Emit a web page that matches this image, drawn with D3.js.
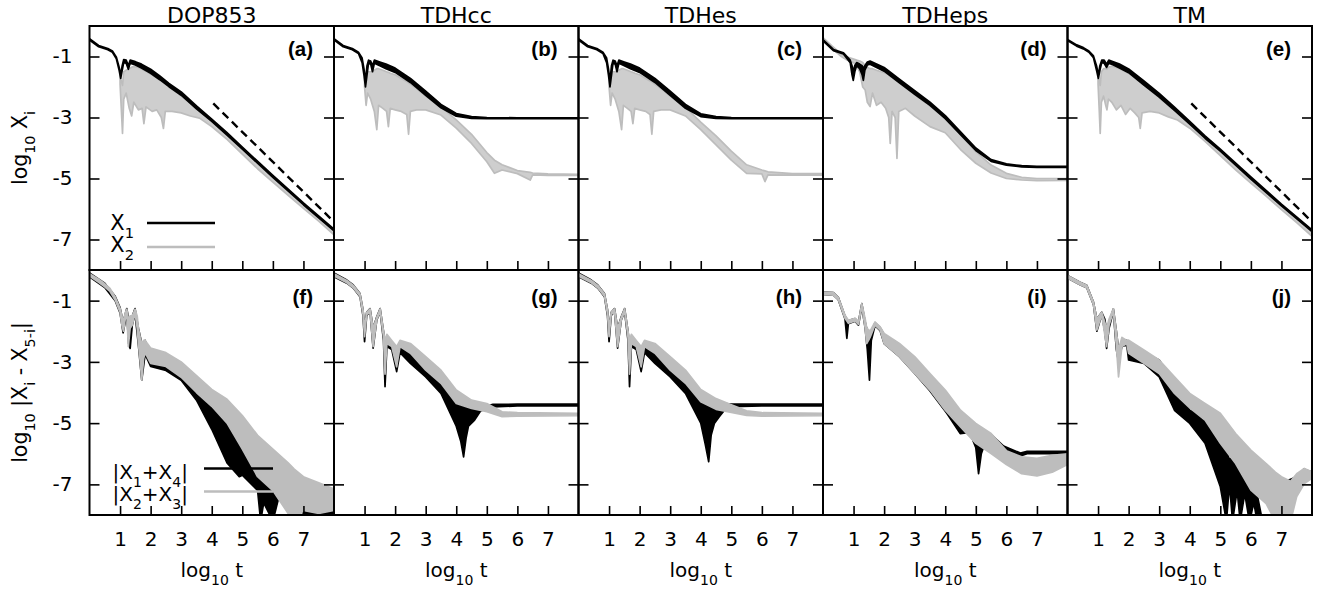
<!DOCTYPE html>
<html><head><meta charset="utf-8">
<script src="https://cdn.jsdelivr.net/npm/d3@7"></script>
<style>html,body{margin:0;padding:0;background:#fff;} svg{display:block;} text{white-space:pre;}</style>
</head><body><svg id="chart" width="1332" height="593"></svg>
<script>
// ---------- categories / labels ----------
const methods = ["DOP853", "TDHcc", "TDHes", "TDHeps", "TM"];
const topPanelLabels = ["(a)", "(b)", "(c)", "(d)", "(e)"];
const bottomPanelLabels = ["(f)", "(g)", "(h)", "(i)", "(j)"];
const xTicks = [1, 2, 3, 4, 5, 6, 7];
const yTicks = [-1, -3, -5, -7];

// ---------- series: [log10 t, upper envelope, lower envelope] ----------
// top row: log10 X1 (black) and log10 X2 (grey)
const X1_DOP853 = [[0,-0.42,-0.46],[0.3,-0.64,-0.68],[0.6,-0.74,-0.78],[0.75,-0.82,-0.86],[0.88,-1.02,-1.08],[0.97,-1.35,-1.45],[1.02,-1.6,-1.72],[1.07,-1.3,-1.45],[1.12,-1.1,-1.2],[1.2,-1.12,-1.22],[1.27,-1.3,-1.42],[1.33,-1.12,-1.22],[1.5,-1.17,-1.28],[1.7,-1.25,-1.38],[2.0,-1.42,-1.55],[2.3,-1.64,-1.76],[2.6,-1.88,-1.99],[3.0,-2.16,-2.27],[3.5,-2.62,-2.72],[4.0,-3.05,-3.13],[4.5,-3.5,-3.58],[5.0,-3.97,-4.04],[6.0,-4.9,-4.96],[7.0,-5.8,-5.86],[8.0,-6.66,-6.72]];
const X2_DOP853 = [[1.0,-1.62,-1.9],[1.04,-1.8,-2.7],[1.08,-1.95,-3.52],[1.12,-1.5,-2.4],[1.2,-1.45,-2.2],[1.3,-1.4,-2.7],[1.38,-1.35,-2.95],[1.45,-1.33,-2.5],[1.6,-1.36,-2.75],[1.72,-1.42,-2.7],[1.78,-1.45,-3.2],[1.85,-1.49,-2.65],[2.05,-1.6,-2.8],[2.2,-1.7,-2.75],[2.35,-1.8,-3.0],[2.42,-1.84,-3.36],[2.48,-1.88,-2.8],[2.7,-2.03,-2.8],[3.0,-2.3,-2.85],[3.3,-2.52,-2.95],[3.6,-2.78,-3.02],[4.0,-3.12,-3.3],[4.5,-3.55,-3.72],[5.0,-4.02,-4.2],[5.5,-4.5,-4.68],[6.0,-4.96,-5.12],[6.5,-5.4,-5.55],[7.0,-5.85,-5.98],[7.5,-6.28,-6.4],[8.0,-6.7,-6.85]];
const X1_TDHcc = [[0,-0.42,-0.46],[0.3,-0.64,-0.68],[0.6,-0.74,-0.78],[0.8,-0.86,-0.9],[0.92,-1.05,-1.2],[0.98,-1.4,-1.6],[1.03,-1.8,-2.0],[1.08,-1.3,-1.6],[1.13,-1.12,-1.22],[1.2,-1.15,-1.25],[1.26,-1.3,-1.5],[1.32,-1.12,-1.22],[1.5,-1.18,-1.3],[1.7,-1.25,-1.4],[2.0,-1.38,-1.52],[2.5,-1.72,-1.85],[3.0,-2.14,-2.27],[3.5,-2.57,-2.68],[4.0,-2.87,-2.96],[4.5,-2.97,-3.03],[5.0,-3.0,-3.04],[6.0,-3.01,-3.04],[8.0,-3.01,-3.04]];
const X2_TDHcc = [[1.0,-1.7,-2.0],[1.05,-1.9,-2.6],[1.1,-1.5,-2.2],[1.2,-1.5,-2.4],[1.32,-1.45,-2.8],[1.4,-1.4,-3.4],[1.46,-1.4,-2.6],[1.6,-1.45,-2.7],[1.72,-1.5,-2.8],[1.78,-1.52,-3.3],[1.84,-1.55,-2.7],[2.0,-1.6,-2.75],[2.2,-1.72,-2.8],[2.38,-1.82,-2.9],[2.44,-1.86,-3.55],[2.5,-1.9,-2.8],[2.7,-2.05,-2.75],[3.0,-2.3,-2.75],[3.5,-2.65,-2.92],[4.0,-3.08,-3.35],[4.5,-3.55,-3.85],[5.0,-4.15,-4.45],[5.25,-4.4,-4.83],[5.5,-4.55,-4.72],[6.0,-4.74,-4.84],[6.42,-4.8,-5.05],[6.5,-4.82,-4.88],[7.0,-4.85,-4.9],[8.0,-4.86,-4.9]];
const X1_TDHes = [[0,-0.42,-0.46],[0.3,-0.64,-0.68],[0.6,-0.74,-0.78],[0.8,-0.86,-0.9],[0.92,-1.05,-1.2],[0.98,-1.4,-1.6],[1.03,-1.8,-2.0],[1.08,-1.3,-1.6],[1.13,-1.12,-1.22],[1.2,-1.15,-1.25],[1.26,-1.3,-1.5],[1.32,-1.12,-1.22],[1.5,-1.18,-1.3],[1.7,-1.25,-1.4],[2.0,-1.38,-1.52],[2.5,-1.72,-1.85],[3.0,-2.14,-2.27],[3.5,-2.57,-2.7],[4.0,-2.88,-2.97],[4.5,-2.97,-3.03],[5.0,-3.0,-3.04],[6.0,-3.01,-3.04],[8.0,-3.01,-3.04]];
const X2_TDHes = [[1.0,-1.7,-2.0],[1.05,-1.9,-2.6],[1.1,-1.5,-2.2],[1.2,-1.5,-2.4],[1.32,-1.45,-2.8],[1.41,-1.4,-3.4],[1.47,-1.4,-2.6],[1.6,-1.45,-2.7],[1.72,-1.5,-2.8],[1.78,-1.52,-3.2],[1.84,-1.55,-2.7],[2.0,-1.6,-2.75],[2.2,-1.72,-2.8],[2.34,-1.8,-2.9],[2.4,-1.84,-3.55],[2.46,-1.88,-2.8],[2.7,-2.05,-2.75],[3.0,-2.3,-2.75],[3.5,-2.67,-2.95],[4.0,-3.15,-3.4],[4.5,-3.6,-3.9],[5.0,-4.1,-4.4],[5.5,-4.55,-4.83],[6.0,-4.72,-4.85],[6.1,-4.75,-5.1],[6.2,-4.78,-4.88],[7.0,-4.84,-4.89],[8.0,-4.84,-4.89]];
const X1_TDHeps = [[0,-0.45,-0.49],[0.34,-0.77,-0.81],[0.67,-0.88,-0.92],[0.89,-1.12,-1.2],[0.95,-1.3,-1.6],[0.99,-1.5,-1.78],[1.04,-1.3,-1.5],[1.1,-1.2,-1.3],[1.2,-1.25,-1.4],[1.28,-1.3,-1.6],[1.32,-1.4,-1.78],[1.37,-1.3,-1.45],[1.45,-1.18,-1.28],[1.54,-1.15,-1.25],[2.0,-1.36,-1.48],[2.5,-1.74,-1.86],[3.0,-2.12,-2.24],[3.5,-2.5,-2.6],[4.0,-2.94,-3.04],[4.5,-3.47,-3.56],[5.0,-4.0,-4.08],[5.5,-4.38,-4.44],[6.0,-4.52,-4.56],[6.5,-4.58,-4.62],[7.0,-4.6,-4.64],[8.0,-4.6,-4.64]];
const X2_TDHeps = [[0,-0.38,-0.44],[0.3,-0.66,-0.74],[0.6,-0.92,-1.0],[0.8,-1.02,-1.12],[1.0,-1.08,-1.2],[1.1,-1.12,-1.3],[1.2,-1.15,-1.5],[1.3,-1.2,-2.0],[1.38,-1.3,-2.1],[1.45,-1.35,-2.5],[1.54,-1.4,-2.64],[1.62,-1.4,-2.2],[1.75,-1.45,-2.6],[1.9,-1.5,-2.5],[2.05,-1.55,-2.7],[2.15,-1.6,-3.0],[2.2,-1.65,-3.85],[2.26,-1.68,-2.8],[2.36,-1.75,-3.0],[2.42,-1.8,-4.34],[2.48,-1.82,-2.8],[2.7,-1.95,-2.7],[3.0,-2.25,-2.95],[3.5,-2.62,-3.3],[4.0,-3.02,-3.5],[4.5,-3.55,-4.05],[5.0,-4.12,-4.5],[5.5,-4.56,-4.82],[6.0,-4.83,-5.0],[6.5,-4.96,-5.05],[7.0,-5.0,-5.07],[8.0,-5.0,-5.06]];
const X1_TM = [[0,-0.44,-0.48],[0.3,-0.62,-0.66],[0.52,-0.71,-0.75],[0.7,-0.82,-0.86],[0.85,-0.98,-1.04],[0.95,-1.3,-1.45],[1.01,-1.6,-1.72],[1.06,-1.3,-1.45],[1.12,-1.12,-1.2],[1.2,-1.12,-1.22],[1.28,-1.25,-1.36],[1.35,-1.12,-1.22],[1.5,-1.17,-1.28],[1.7,-1.25,-1.38],[2.0,-1.41,-1.53],[2.5,-1.8,-1.94],[3.0,-2.21,-2.33],[3.5,-2.66,-2.77],[4.0,-3.13,-3.22],[4.5,-3.6,-3.68],[5.0,-4.04,-4.1],[6.0,-4.95,-5.02],[7.0,-5.84,-5.9],[8.0,-6.68,-6.74]];
const X2_TM = [[1.0,-1.62,-1.9],[1.04,-1.8,-2.8],[1.07,-1.95,-3.52],[1.11,-1.5,-2.5],[1.18,-1.4,-2.3],[1.25,-1.4,-2.6],[1.29,-1.42,-2.75],[1.34,-1.35,-2.4],[1.45,-1.32,-2.5],[1.6,-1.36,-2.75],[1.75,-1.42,-2.6],[1.9,-1.5,-2.9],[2.05,-1.58,-2.7],[2.2,-1.68,-2.85],[2.33,-1.76,-3.0],[2.38,-1.8,-3.36],[2.44,-1.84,-2.85],[2.7,-2.04,-2.8],[3.0,-2.35,-2.85],[3.3,-2.6,-2.98],[3.6,-2.85,-3.08],[4.0,-3.2,-3.35],[4.5,-3.62,-3.78],[5.0,-4.08,-4.25],[5.5,-4.55,-4.72],[6.0,-5.0,-5.15],[6.5,-5.45,-5.58],[7.0,-5.9,-6.02],[7.5,-6.3,-6.45],[8.0,-6.72,-6.9]];
// reference slope (dashed) in panels (a) and (e)
const slopeRef = [[4.05, -2.54], [8.0, -6.42]];

// bottom row: log10 |X1+X4| (black) and log10 |X2+X3| (grey)
const S14_DOP853 = [[0,-0.1,-0.22],[0.5,-0.43,-0.57],[0.84,-0.86,-1.0],[1.0,-1.23,-1.4],[1.1,-1.7,-2.05],[1.22,-1.26,-1.42],[1.28,-1.6,-2.4],[1.33,-1.8,-2.56],[1.4,-1.5,-1.8],[1.49,-1.26,-1.42],[1.6,-1.9,-2.45],[1.71,-2.4,-3.6],[1.82,-2.3,-2.75],[2.0,-2.8,-3.15],[2.5,-2.92,-3.28],[3.0,-3.15,-3.6],[3.5,-3.7,-4.25],[4.0,-4.35,-5.2],[4.5,-5.0,-6.3],[4.9,-5.5,-6.75],[5.0,-5.75,-6.7],[5.5,-6.3,-7.2],[5.6,-6.6,-8.2],[5.7,-6.6,-7.6],[6.0,-6.5,-8.2],[6.2,-6.8,-7.4],[6.5,-6.55,-7.4],[7.0,-7.05,-7.95],[7.5,-7.4,-8.2],[8.0,-7.6,-8.2]];
const S23_DOP853 = [[0,-0.12,-0.2],[0.3,-0.3,-0.4],[0.5,-0.45,-0.55],[0.67,-0.6,-0.7],[0.84,-0.88,-0.98],[1.0,-1.25,-1.38],[1.06,-1.5,-1.8],[1.11,-1.7,-2.0],[1.17,-1.4,-1.6],[1.22,-1.28,-1.4],[1.27,-1.6,-2.5],[1.33,-1.5,-1.9],[1.4,-1.5,-1.8],[1.49,-1.28,-1.4],[1.56,-1.5,-1.9],[1.6,-1.9,-2.4],[1.66,-2.2,-3.0],[1.71,-2.4,-3.6],[1.77,-2.3,-2.9],[1.82,-2.3,-2.7],[2.0,-2.55,-3.05],[2.5,-2.7,-3.15],[3.0,-3.0,-3.5],[3.5,-3.45,-4.0],[4.0,-3.9,-4.45],[4.5,-4.22,-5.0],[5.0,-4.75,-5.85],[5.5,-5.4,-6.75],[6.0,-5.85,-7.2],[6.5,-6.3,-7.95],[6.7,-6.5,-8.2],[7.0,-6.75,-7.85],[7.5,-6.95,-7.95],[8.0,-7.15,-7.85]];
const S14_TDHcc = [[0,-0.1,-0.22],[0.42,-0.33,-0.43],[0.63,-0.49,-0.59],[0.85,-0.77,-0.87],[0.95,-1.3,-1.5],[1.0,-1.9,-2.34],[1.07,-1.38,-1.48],[1.18,-1.26,-1.36],[1.28,-1.9,-2.55],[1.4,-1.53,-1.63],[1.51,-1.26,-1.36],[1.62,-2.0,-2.3],[1.67,-2.5,-3.81],[1.73,-2.2,-2.5],[1.89,-2.45,-2.6],[2.05,-2.7,-3.32],[2.16,-2.45,-2.7],[2.5,-2.6,-3.05],[3.0,-3.05,-3.49],[3.5,-3.49,-4.03],[4.0,-4.14,-5.1],[4.15,-4.3,-5.6],[4.24,-4.4,-6.1],[4.32,-4.4,-5.5],[4.4,-4.45,-5.1],[4.6,-4.4,-4.9],[4.8,-4.36,-4.6],[5.0,-4.44,-4.52],[5.2,-4.39,-4.47],[6.0,-4.38,-4.44],[8.0,-4.38,-4.44]];
const S23_TDHcc = [[0,-0.12,-0.2],[0.42,-0.34,-0.42],[0.63,-0.5,-0.58],[0.85,-0.78,-0.86],[0.95,-1.3,-1.45],[1.0,-1.9,-2.18],[1.07,-1.38,-1.46],[1.18,-1.27,-1.35],[1.28,-1.9,-2.5],[1.4,-1.54,-1.62],[1.51,-1.27,-1.35],[1.62,-2.0,-2.2],[1.67,-2.3,-3.4],[1.73,-2.1,-2.4],[1.89,-2.3,-2.5],[2.05,-2.5,-3.16],[2.16,-2.3,-2.5],[2.5,-2.4,-2.72],[3.0,-2.83,-3.27],[3.5,-3.27,-3.7],[4.0,-3.92,-4.36],[4.5,-4.25,-4.52],[5.0,-4.36,-4.63],[5.5,-4.63,-4.79],[6.0,-4.66,-4.77],[8.0,-4.68,-4.76]];
const S14_TDHes = [[0,-0.1,-0.22],[0.42,-0.33,-0.43],[0.63,-0.49,-0.59],[0.85,-0.77,-0.87],[0.95,-1.3,-1.5],[1.0,-1.9,-2.34],[1.07,-1.38,-1.48],[1.18,-1.26,-1.36],[1.28,-1.9,-2.55],[1.4,-1.53,-1.63],[1.51,-1.26,-1.36],[1.62,-2.0,-2.3],[1.67,-2.5,-3.81],[1.73,-2.2,-2.5],[1.89,-2.45,-2.6],[2.05,-2.7,-3.32],[2.16,-2.45,-2.7],[2.5,-2.6,-3.05],[3.0,-3.05,-3.49],[3.5,-3.49,-4.03],[4.0,-4.1,-5.0],[4.15,-4.3,-5.7],[4.26,-4.4,-6.26],[4.34,-4.4,-5.4],[4.45,-4.4,-5.0],[4.6,-4.38,-4.8],[4.8,-4.36,-4.55],[5.0,-4.38,-4.46],[6.0,-4.38,-4.44],[8.0,-4.38,-4.44]];
const S23_TDHes = [[0,-0.12,-0.2],[0.42,-0.34,-0.42],[0.63,-0.5,-0.58],[0.85,-0.78,-0.86],[0.95,-1.3,-1.45],[1.0,-1.9,-2.18],[1.07,-1.38,-1.46],[1.18,-1.27,-1.35],[1.28,-1.9,-2.5],[1.4,-1.54,-1.62],[1.51,-1.27,-1.35],[1.62,-2.0,-2.2],[1.67,-2.3,-3.4],[1.73,-2.1,-2.4],[1.89,-2.3,-2.5],[2.05,-2.5,-3.16],[2.16,-2.3,-2.5],[2.5,-2.4,-2.72],[3.0,-2.83,-3.27],[3.5,-3.27,-3.7],[4.0,-3.9,-4.3],[4.5,-4.2,-4.55],[5.0,-4.4,-4.65],[5.5,-4.6,-4.75],[6.0,-4.66,-4.77],[8.0,-4.68,-4.76]];
const S14_TDHeps = [[0,-0.72,-0.8],[0.34,-0.74,-0.82],[0.5,-0.89,-0.97],[0.72,-1.5,-1.6],[0.78,-1.6,-2.23],[0.83,-1.65,-1.75],[1.05,-1.59,-1.67],[1.16,-1.7,-1.8],[1.27,-1.1,-1.2],[1.38,-1.7,-1.9],[1.45,-2.0,-2.6],[1.52,-2.5,-3.6],[1.58,-2.1,-2.3],[1.7,-1.72,-1.82],[1.87,-1.88,-1.98],[2.0,-2.1,-2.4],[2.5,-2.5,-2.83],[3.0,-2.95,-3.38],[3.5,-3.5,-3.95],[4.05,-4.1,-4.68],[4.49,-4.7,-5.34],[4.8,-4.9,-5.3],[5.0,-5.1,-5.8],[5.09,-5.3,-6.65],[5.18,-5.4,-6.0],[5.26,-5.3,-5.77],[5.48,-5.35,-5.55],[5.91,-5.75,-5.9],[6.46,-5.98,-6.07],[6.68,-5.92,-6.0],[8.0,-5.92,-6.0]];
const S23_TDHeps = [[0,-0.72,-0.8],[0.34,-0.74,-0.82],[0.5,-0.89,-0.97],[0.72,-1.48,-1.58],[0.83,-1.64,-1.74],[1.05,-1.58,-1.66],[1.16,-1.7,-1.78],[1.27,-1.1,-1.18],[1.38,-1.6,-1.9],[1.43,-1.9,-2.4],[1.54,-2.0,-2.2],[1.7,-1.7,-1.8],[1.87,-1.86,-1.96],[2.0,-2.07,-2.4],[2.5,-2.4,-2.83],[3.0,-2.83,-3.38],[3.5,-3.38,-3.92],[4.0,-3.92,-4.58],[4.5,-4.58,-5.12],[5.0,-5.01,-5.66],[5.5,-5.34,-5.99],[6.0,-5.9,-6.35],[6.5,-6.1,-6.65],[7.0,-6.15,-6.72],[7.5,-6.05,-6.6],[8.0,-6.0,-6.35]];
const S14_TM = [[0,-0.18,-0.26],[0.41,-0.4,-0.48],[0.63,-0.5,-0.58],[0.85,-1.05,-1.13],[0.96,-1.6,-2.0],[1.12,-1.38,-1.46],[1.22,-1.6,-2.0],[1.28,-2.0,-2.56],[1.36,-1.7,-1.9],[1.5,-1.27,-1.35],[1.6,-2.0,-2.6],[1.67,-2.6,-3.0],[1.78,-2.3,-2.5],[1.94,-2.3,-2.45],[2.0,-2.61,-2.94],[2.5,-2.7,-3.05],[3.0,-2.94,-3.49],[3.5,-3.7,-4.58],[4.0,-4.58,-5.01],[4.5,-4.79,-5.66],[5.0,-5.66,-7.08],[5.2,-5.88,-8.2],[5.3,-6.2,-7.0],[5.4,-6.1,-8.2],[5.55,-6.3,-7.2],[5.65,-6.4,-8.2],[5.8,-6.6,-7.3],[5.95,-6.9,-8.2],[6.1,-7.1,-7.6],[6.2,-7.3,-8.2],[6.4,-8.3,-8.4],[7.0,-8.3,-8.4],[7.15,-7.2,-7.4],[7.24,-6.86,-7.0],[7.5,-6.75,-6.9],[7.73,-6.5,-6.6],[8.0,-6.6,-6.7]];
const S23_TM = [[0,-0.18,-0.26],[0.41,-0.4,-0.48],[0.63,-0.5,-0.58],[0.85,-1.05,-1.13],[0.96,-1.6,-1.96],[1.12,-1.38,-1.46],[1.28,-1.9,-2.5],[1.36,-1.6,-1.8],[1.5,-1.27,-1.35],[1.6,-2.0,-2.5],[1.67,-2.6,-3.49],[1.78,-2.2,-2.5],[1.94,-2.3,-2.4],[2.0,-2.29,-2.72],[2.5,-2.61,-3.05],[3.0,-2.94,-3.38],[3.5,-3.49,-4.03],[4.0,-4.03,-4.5],[4.5,-4.36,-4.9],[5.0,-4.68,-5.66],[5.5,-5.34,-6.32],[6.0,-5.88,-7.19],[6.5,-6.32,-7.63],[6.8,-6.6,-8.2],[7.0,-6.75,-8.2],[7.3,-6.9,-8.2],[7.5,-6.65,-7.4],[7.75,-6.48,-6.97],[8.0,-6.59,-6.8]];

const topBlack = [X1_DOP853, X1_TDHcc, X1_TDHes, X1_TDHeps, X1_TM];
const topGrey = [X2_DOP853, X2_TDHcc, X2_TDHes, X2_TDHeps, X2_TM];
const botBlack = [S14_DOP853, S14_TDHcc, S14_TDHes, S14_TDHeps, S14_TM];
const botGrey = [S23_DOP853, S23_TDHcc, S23_TDHes, S23_TDHeps, S23_TM];
const slopePanels = [0, 4];

// ---------- layout ----------
const svg = d3.select("#chart");
const FONT = "'DejaVu Sans', sans-serif";
const BLACK = "#000", GREY = "#bdbdbd";
const L0 = 89.5, PW = 244.5, TOP = 26, MID = 270, BOT = 515;
const FS = 20;

const xScales = methods.map((m, k) => d3.scaleLinear().domain([0, 8]).range([L0 + k * PW, L0 + (k + 1) * PW]));
const yTop = d3.scaleLinear().domain([-8, 0]).range([MID, TOP]);
const yBot = d3.scaleLinear().domain([-8, 0]).range([BOT, MID]);

function rich(sel, parts, fs) {
  let prevSub = false;
  parts.forEach(([s, sub]) => {
    const t = sel.append("tspan").text(s);
    if (sub) { t.attr("font-size", fs * 0.7); if (!prevSub) t.attr("dy", fs * 0.38); }
    else if (prevSub) t.attr("dy", -fs * 0.38);
    prevSub = sub;
  });
  return sel;
}

const defs = svg.append("defs");

function drawBand(g, data, color, xs, ys, fillOpacity) {
  const area = d3.area().x(d => xs(d[0])).y0(d => ys(d[2])).y1(d => ys(d[1]));
  g.append("path").attr("d", area(data)).attr("fill", color).attr("fill-opacity", fillOpacity)
    .attr("stroke", color).attr("stroke-width", 1.7).attr("stroke-linejoin", "round");
}

function panel(k, row) {
  const xs = xScales[k];
  const ys = row === 0 ? yTop : yBot;
  const y0 = row === 0 ? TOP : MID, y1 = row === 0 ? MID : BOT;
  const x0 = xs.range()[0], x1 = xs.range()[1];
  const id = `clip${row}_${k}`;
  defs.append("clipPath").attr("id", id).append("rect").attr("x", x0).attr("y", y0).attr("width", x1 - x0).attr("height", y1 - y0);
  const g = svg.append("g").attr("clip-path", `url(#${id})`);
  if (row === 0) {
    drawBand(g, topGrey[k], GREY, xs, ys, 0.75);
    drawBand(g, topBlack[k], BLACK, xs, ys, 1);
    if (slopePanels.includes(k)) {
      g.append("path").attr("d", d3.line().x(d => xs(d[0])).y(d => ys(d[1]))(slopeRef))
        .attr("fill", "none").attr("stroke", BLACK).attr("stroke-width", 2.4).attr("stroke-dasharray", "8,5");
    }
  } else {
    drawBand(g, botBlack[k], BLACK, xs, ys, 1);
    drawBand(g, botGrey[k], GREY, xs, ys, 1);
  }
  const styleAxis = a => {
    a.select(".domain").remove();
    a.selectAll(".tick line").attr("stroke", BLACK).attr("stroke-width", 1.6);
    a.selectAll("text").attr("font-family", FONT).attr("font-size", FS).attr("fill", BLACK);
  };
  svg.append("g").attr("transform", `translate(${x0},0)`)
    .call(d3.axisLeft(ys).tickValues(yTicks).tickSize(-10).tickPadding(17).tickFormat(k === 0 ? (d => String(d)) : () => ""))
    .call(styleAxis);
  svg.append("g").attr("transform", `translate(${x1},0)`)
    .call(d3.axisRight(ys).tickValues(yTicks).tickSize(-10).tickFormat(() => ""))
    .call(styleAxis);
  svg.append("g").attr("transform", `translate(0,${y1})`)
    .call(d3.axisBottom(xs).tickValues(xTicks).tickSize(-9).tickPadding(17).tickFormat(row === 1 ? (d => String(d)) : () => ""))
    .call(styleAxis);
  svg.append("rect").attr("x", x0).attr("y", y0).attr("width", x1 - x0).attr("height", y1 - y0)
    .attr("fill", "none").attr("stroke", BLACK).attr("stroke-width", 2);
  svg.append("text").attr("x", x1 - 21).attr("y", row === 0 ? 55.5 : 304)
    .attr("text-anchor", "end").attr("font-family", "'Liberation Sans', Arial, sans-serif")
    .attr("font-weight", "bold").attr("font-size", 20.5)
    .text(row === 0 ? topPanelLabels[k] : bottomPanelLabels[k]);
  if (row === 0) {
    svg.append("text").attr("x", (x0 + x1) / 2).attr("y", 22.5).attr("text-anchor", "middle")
      .attr("font-family", FONT).attr("font-size", 22).text(methods[k]);
  } else {
    rich(svg.append("text").attr("x", (x0 + x1) / 2).attr("y", 577).attr("text-anchor", "middle")
      .attr("font-family", FONT).attr("font-size", FS), [["log", 0], ["10", 1], [" t", 0]], FS);
  }
}

for (let k = 0; k < methods.length; k++) { panel(k, 0); panel(k, 1); }

rich(svg.append("text").attr("transform", `translate(27,${(TOP + MID) / 2}) rotate(-90)`).attr("text-anchor", "middle")
  .attr("font-family", FONT).attr("font-size", 20.5), [["log", 0], ["10", 1], [" X", 0], ["i", 1]], 20.5);
rich(svg.append("text").attr("transform", `translate(27,${(MID + BOT) / 2}) rotate(-90)`).attr("text-anchor", "middle")
  .attr("font-family", FONT).attr("font-size", 20.5), [["log", 0], ["10", 1], [" |X", 0], ["i", 1], [" - X", 0], ["5-i", 1], ["|", 0]], 20.5);

const legTop = [{parts: [["X", 0], ["1", 1]], color: BLACK, ly: 223, ty: 230},
                {parts: [["X", 0], ["2", 1]], color: GREY, ly: 247, ty: 252}];
legTop.forEach(d => {
  svg.append("line").attr("x1", 147).attr("x2", 215).attr("y1", d.ly).attr("y2", d.ly)
    .attr("stroke", d.color).attr("stroke-width", 2.5);
  rich(svg.append("text").attr("x", 134).attr("y", d.ty).attr("text-anchor", "end")
    .attr("font-family", FONT).attr("font-size", 21), d.parts, 21);
});
const legBot = [{parts: [["|X", 0], ["1", 1], ["+X", 0], ["4", 1], ["|", 0]], color: BLACK, ly: 468.5, ty: 479},
                {parts: [["|X", 0], ["2", 1], ["+X", 0], ["3", 1], ["|", 0]], color: GREY, ly: 491.5, ty: 501}];
legBot.forEach(d => {
  svg.append("line").attr("x1", 204).attr("x2", 273).attr("y1", d.ly).attr("y2", d.ly)
    .attr("stroke", d.color).attr("stroke-width", 2.5);
  rich(svg.append("text").attr("x", 188).attr("y", d.ty).attr("text-anchor", "end")
    .attr("font-family", FONT).attr("font-size", FS), d.parts, FS);
});
</script></body></html>
